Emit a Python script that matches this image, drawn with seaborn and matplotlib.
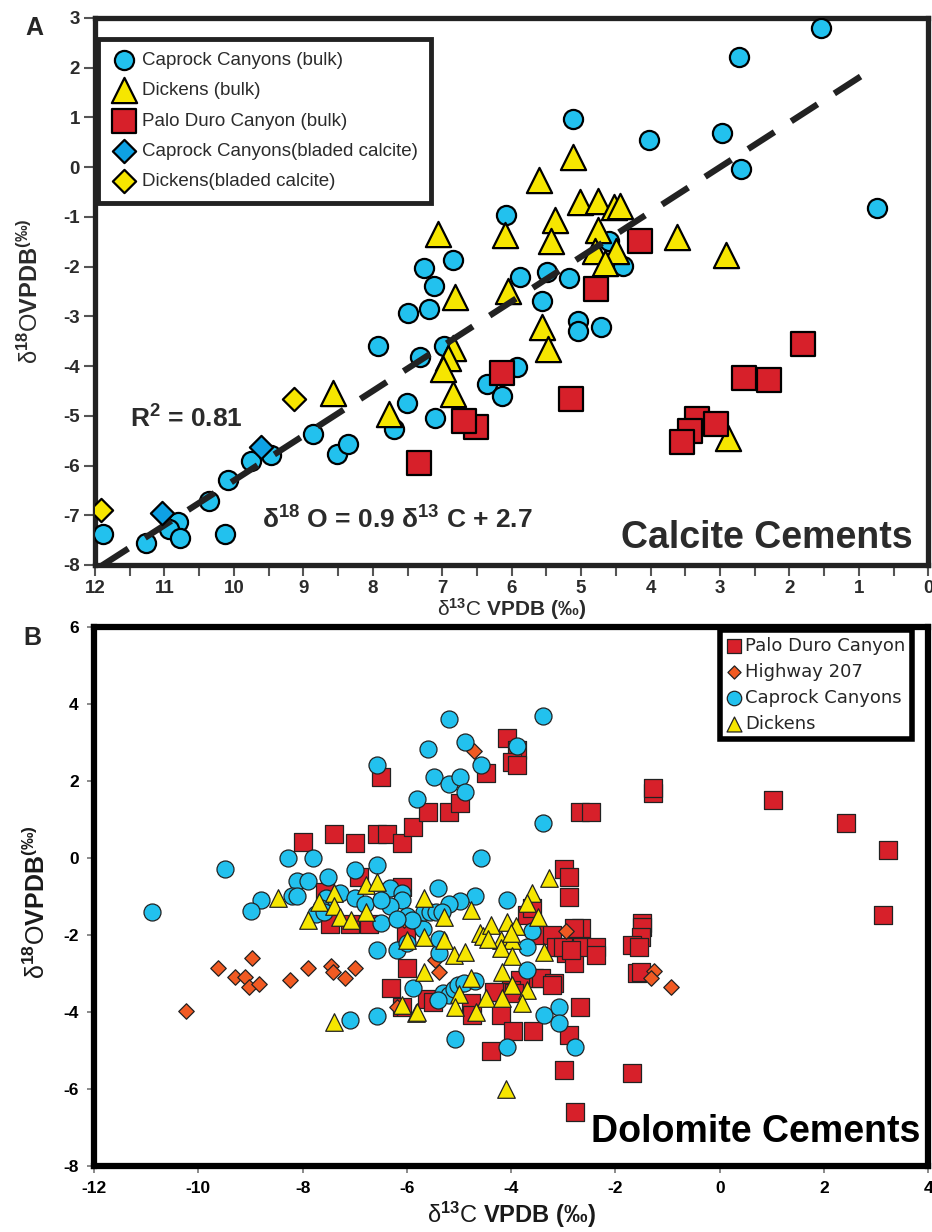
import seaborn as sns
import matplotlib.pyplot as plt
from matplotlib.ticker import MultipleLocator, FuncFormatter

sns.set_style('white')
plt.rcParams['font.family'] = ['Liberation Sans', 'DejaVu Sans']
plt.rcParams['font.weight'] = 'bold'
plt.rcParams['axes.unicode_minus'] = False
plt.rcParams['mathtext.fontset'] = 'custom'
plt.rcParams['mathtext.rm'] = 'Liberation Sans'
plt.rcParams['mathtext.bf'] = 'Liberation Sans:bold'
plt.rcParams['mathtext.it'] = 'Liberation Sans:italic'

CYAN = '#22C1EE'
BLUE = '#0EA1E4'
YELLOW = '#F6E600'
RED = '#D7202A'
ORANGE = '#F15A22'

# ---------------- Panel A: calcite cements (d13C stored as negative values)
cc_bulk_x = [-1.55, -2.72, -5.12, -4.02, -2.97, -2.69, -0.74, -6.08, -5.88, -5.49,
             -5.17, -4.60, -4.40, -7.26, -6.85, -7.12, -7.50, -7.19, -7.93, -7.32,
             -6.97, -7.51, -7.10, -7.70, -8.86, -8.52, -8.35, -9.47, -9.76, -10.09,
             -10.36, -10.13, -10.81, -10.93, -10.78, -11.27, -11.88, -5.56, -5.05, -5.05,
             -4.72, -5.92, -6.35, -6.14]
cc_bulk_y = [2.80, 2.21, 0.96, 0.54, 0.68, -0.04, -0.83, -0.97, -2.20, -2.10,
             -2.22, -1.48, -1.98, -2.02, -1.86, -2.38, -2.93, -2.85, -3.59, -3.81,
             -3.60, -4.74, -5.04, -5.27, -5.37, -5.77, -5.57, -5.78, -5.91, -6.29,
             -6.72, -7.38, -7.14, -7.28, -7.46, -7.56, -7.38, -2.70, -3.09, -3.29,
             -3.21, -4.02, -4.36, -4.60]

dk_bulk_x = [-5.11, -5.61, -5.02, -4.75, -4.52, -4.44, -5.37, -6.09, -5.44, -4.76,
             -4.80, -4.50, -4.66, -3.62, -2.92, -6.06, -7.06, -6.82, -6.85, -6.92,
             -6.99, -6.85, -8.58, -7.77, -5.56, -5.47, -2.88]
dk_bulk_y = [0.20, -0.25, -0.71, -0.69, -0.81, -0.79, -1.07, -1.37, -1.48, -1.27,
             -1.68, -1.68, -1.92, -1.40, -1.76, -2.50, -1.34, -2.62, -3.63, -3.83,
             -4.06, -4.56, -4.54, -4.97, -3.22, -3.65, -5.45]

pd_bulk_x = [-4.15, -4.78, -6.14, -5.15, -6.51, -6.69, -1.81, -2.66, -2.29, -3.33,
             -3.05, -3.43, -3.55, -7.34]
pd_bulk_y = [-1.48, -2.44, -4.13, -4.66, -5.23, -5.10, -3.55, -4.24, -4.28, -5.06,
             -5.17, -5.31, -5.53, -5.95]

cc_blade_x = [-9.61, -11.03]
cc_blade_y = [-5.63, -6.96]
dk_blade_x = [-9.13, -11.91]
dk_blade_y = [-4.66, -6.90]

fit_slope = 0.9
fit_intercept = 2.7
fit_range = [-11.9, -0.75]

# ---------------- Panel B: dolomite cements
pdc_x = [-8.00, -7.39, -6.99, -6.58, -6.39, -6.09, -5.89, -5.59, -5.19, -4.98,
         -6.49, -4.48, -4.08, -3.89, -3.98, -3.89, -2.68, -2.47, -1.28, -1.28,
         1.03, 2.43, 3.23, 3.14,
         -2.99, -2.89, -2.89, -6.91, -6.09, -7.58, -7.48, -7.10, -6.72, -6.01,
         -3.69, -3.60,
         -3.52, -3.21, -3.14, -2.95, -2.79, -2.70, -2.64, -2.37, -2.37, -2.66,
         -2.79, -3.00, -2.85, -1.49, -1.49, -1.51, -1.68, -1.55, -1.59, -1.51,
         -5.99, -6.30, -6.09, -5.61, -5.50, -4.77, -4.75, -4.19, -4.38, -3.96,
         -3.58, -2.89, -2.68, -3.56, -3.42, -3.18, -3.84, -4.00, -4.23, -2.99,
         -1.68, -2.78, -3.21, -3.94, -4.33]
pdc_y = [0.41, 0.62, 0.39, 0.62, 0.62, 0.39, 0.80, 1.19, 1.19, 1.43,
         2.10, 2.21, 3.12, 2.80, 2.49, 2.42, 1.19, 1.19, 1.69, 1.82,
         1.51, 0.91, 0.21, -1.48,
         -0.29, -0.49, -1.01, -0.50, -0.75, -0.88, -1.71, -1.71, -1.71, -1.95,
         -1.48, -1.30,
         -2.00, -2.00, -2.30, -2.47, -2.73, -2.00, -2.31, -2.31, -2.52, -1.82,
         -1.82, -2.30, -2.40, -1.69, -1.79, -2.05, -2.26, -2.31, -2.98, -2.96,
         -2.86, -3.38, -3.87, -3.66, -3.75, -3.77, -4.08, -4.08, -5.01, -4.49,
         -4.49, -4.60, -3.87, -3.12, -3.12, -3.25, -3.17, -3.43, -3.48, -5.51,
         -5.58, -6.60, -3.30, -3.51, -3.48]

hw_x = [-9.63, -9.30, -9.11, -8.98, -9.02, -8.84, -8.25, -7.90, -7.45, -7.41,
        -6.99, -7.18, -10.24, -1.26, -1.32, -0.94, -4.71, -2.95, -6.05, -5.38,
        -5.47, -6.20]
hw_y = [-2.86, -3.09, -3.09, -2.60, -3.35, -3.27, -3.17, -2.86, -2.81, -2.96,
        -2.86, -3.12, -3.97, -2.94, -3.12, -3.35, 2.78, -1.90, -1.61, -2.96,
        -2.65, -3.87]

ccd_x = [-5.19, -3.39, -5.59, -4.88, -3.89, -6.58, -4.57, -5.49, -5.19, -4.98,
         -4.88, -5.80, -3.39, -4.57,
         -10.89, -9.49, -8.28, -7.81, -8.10, -7.89, -8.79, -9.00, -8.21, -8.10,
         -7.52, -6.99, -6.58,
         -7.29, -7.55, -6.99, -6.80, -7.65, -7.75, -7.60, -6.49, -6.58, -6.20,
         -6.33, -6.10, -6.10, -6.33, -5.99, -5.80, -5.70, -6.00, -6.49,
         -5.40, -4.08, -4.69, -4.98, -5.19, -5.68, -5.55, -5.45, -5.32, -5.90,
         -6.20, -3.60, -3.69, -3.69, -5.38, -5.38, -5.89, -5.30, -5.20, -5.10,
         -5.02, -5.40, -4.90, -4.70,
         -3.37, -3.08, -3.08, -2.78, -4.08, -5.07, -7.10, -6.58]
ccd_y = [3.61, 3.69, 2.83, 3.01, 2.91, 2.42, 2.42, 2.10, 1.92, 2.10,
         1.71, 1.53, 0.91, 0.00,
         -1.40, -0.29, 0.00, 0.00, -0.60, -0.60, -1.09, -1.38, -0.98, -0.98,
         -0.50, -0.31, -0.18,
         -0.92, -1.05, -1.05, -1.20, -1.30, -1.45, -1.40, -1.69, -2.39, -2.39,
         -0.78, -0.90, -1.10, -1.25, -2.20, -1.65, -1.85, -1.50, -1.09,
         -0.78, -1.09, -0.99, -1.12, -1.20, -1.40, -1.40, -1.40, -1.40, -1.60,
         -1.58, -1.90, -2.31, -2.91, -2.47, -2.10, -3.38, -3.52, -3.55, -3.40,
         -3.30, -3.70, -3.25, -3.20,
         -4.08, -3.87, -4.29, -4.91, -4.91, -4.70, -4.21, -4.10]

dkd_x = [-8.48, -7.90, -7.69, -6.79, -6.58, -7.39, -7.39, -7.29, -7.08, -6.78,
         -7.39, -6.09, -5.82, -5.99, -5.68, -5.68, -5.28,
         -4.78, -4.60, -4.55, -4.38, -4.08, -3.90, -4.19, -3.98, -4.19, -3.98,
         -5.28, -5.09, -4.88, -5.68, -4.78, -4.17, -3.98, -3.69, -3.79, -5.00,
         -4.48, -4.17, -5.07, -4.67, -5.80, -4.10, -3.27, -3.60, -3.69, -3.48,
         -3.37, -4.00, -4.45]
dkd_y = [-1.04, -1.60, -1.14, -0.70, -0.62, -0.92, -1.25, -1.53, -1.61, -1.40,
         -4.26, -3.82, -4.03, -2.13, -2.05, -1.05, -1.53,
         -1.35, -1.95, -2.03, -1.74, -1.66, -1.77, -2.13, -2.13, -2.34, -2.55,
         -2.13, -2.52, -2.44, -2.96, -3.12, -2.96, -3.30, -3.43, -3.77, -3.53,
         -3.64, -3.64, -3.87, -4.00, -4.00, -6.00, -0.52, -0.91, -1.17, -1.53,
         -2.44, -1.95, -2.10]

fig = plt.figure(figsize=(9.32, 12.32), dpi=100)
axA = fig.add_axes([0.102, 0.5414, 0.894, 0.444])
axB = fig.add_axes([0.101, 0.0536, 0.895, 0.4375])

# ---- panel A
ew = 1.6
sns.scatterplot(x=cc_bulk_x, y=cc_bulk_y, marker='o', s=190, color=CYAN, edgecolor='black',
                linewidth=ew, ax=axA, label='Caprock Canyons (bulk)', zorder=3)
sns.scatterplot(x=dk_bulk_x, y=dk_bulk_y, marker='^', s=330, color=YELLOW, edgecolor='black',
                linewidth=ew, ax=axA, label='Dickens (bulk)', zorder=4)
sns.scatterplot(x=pd_bulk_x, y=pd_bulk_y, marker='s', s=290, color=RED, edgecolor='black',
                linewidth=ew, ax=axA, label='Palo Duro Canyon (bulk)', zorder=5)
sns.scatterplot(x=cc_blade_x, y=cc_blade_y, marker='D', s=140, color=BLUE, edgecolor='black',
                linewidth=ew, ax=axA, label='Caprock Canyons(bladed calcite)', zorder=7)
sns.scatterplot(x=dk_blade_x, y=dk_blade_y, marker='D', s=140, color=YELLOW, edgecolor='black',
                linewidth=ew, ax=axA, label='Dickens(bladed calcite)', zorder=7)

fit_y = [fit_slope * v + fit_intercept for v in fit_range]
sns.lineplot(x=fit_range, y=fit_y, ax=axA, color='#222222', linewidth=4.5,
             linestyle=(0, (5.0, 3.2)), zorder=6)

axA.set_xlim(-12, 0)
axA.set_ylim(-8, 3)
axA.xaxis.set_major_locator(MultipleLocator(1))
axA.xaxis.set_minor_locator(MultipleLocator(0.5))
axA.yaxis.set_major_locator(MultipleLocator(1))
axA.xaxis.set_major_formatter(FuncFormatter(lambda v, p: f'{abs(v):.0f}'))
axA.tick_params(axis='both', which='both', direction='out', length=8, width=1.5,
                color='#555555', labelsize=13.5, labelcolor='#2b2b2b', pad=3,
                bottom=True, left=True)
for sp in axA.spines.values():
    sp.set_linewidth(3.8)
    sp.set_color('#222222')

axA.set_xlabel(r'δ$^{13}$C $\mathbf{VPDB\ (‰)}$', fontsize=15, fontweight='normal', color='#2b2b2b')
axA.xaxis.set_label_coords(0.5, -0.056)
axA.set_ylabel(r'δ$^{18}$O$\mathbf{VPDB}$$^{(‰)}$', fontsize=17, fontweight='normal', color='#2b2b2b')
axA.yaxis.set_label_coords(-0.062, 0.5)

legA = axA.legend(loc='upper left', bbox_to_anchor=(0.004, 0.962), frameon=True, fancybox=False,
                  framealpha=1, edgecolor='#222222', prop={'weight': 'normal', 'size': 13.5},
                  labelspacing=0.7, handletextpad=0.3, borderpad=0.7, handlelength=1.3,
                  borderaxespad=0, scatterpoints=1, labelcolor='#2b2b2b')
legA.get_frame().set_linewidth(3.5)

axA.text(0.042, 0.252, r'R$^{\mathbf{2}}$ = 0.81', transform=axA.transAxes, fontsize=19,
         fontweight='bold', color='#2b2b2b', ha='left', va='baseline')
axA.text(0.2, 0.066, r'δ$^{\mathbf{18}}$ O = 0.9 δ$^{\mathbf{13}}$ C + 2.7', transform=axA.transAxes,
         fontsize=19, fontweight='bold', color='#2b2b2b', ha='left', va='baseline')
axA.text(0.981, 0.031, 'Calcite Cements', transform=axA.transAxes, fontsize=27,
         fontweight='bold', color='#2b2b2b', ha='right', va='baseline')

# ---- panel B
ewb = 0.9
sns.scatterplot(x=pdc_x, y=pdc_y, marker='s', s=150, color=RED, edgecolor='#222222',
                linewidth=ewb, ax=axB, label='Palo Duro Canyon', zorder=3)
sns.scatterplot(x=hw_x, y=hw_y, marker='D', s=62, color=ORANGE, edgecolor='#222222',
                linewidth=ewb, ax=axB, label='Highway 207', zorder=4)
sns.scatterplot(x=ccd_x, y=ccd_y, marker='o', s=150, color=CYAN, edgecolor='#222222',
                linewidth=ewb, ax=axB, label='Caprock Canyons', zorder=5)
sns.scatterplot(x=dkd_x, y=dkd_y, marker='^', s=160, color=YELLOW, edgecolor='#222222',
                linewidth=ewb, ax=axB, label='Dickens', zorder=6)

axB.set_xlim(-12, 4)
axB.set_ylim(-8, 6)
axB.xaxis.set_major_locator(MultipleLocator(2))
axB.yaxis.set_major_locator(MultipleLocator(2))
axB.tick_params(axis='both', direction='out', length=5, width=1.2, color='#777777',
                labelsize=12.5, labelcolor='black', pad=6, bottom=True, left=True)
for sp in axB.spines.values():
    sp.set_linewidth(4.5)
    sp.set_color('black')

axB.set_xlabel(r'δ$^{13}$C $\mathbf{VPDB\ (‰)}$', fontsize=17, fontweight='normal', color='#1a1a1a')
axB.xaxis.set_label_coords(0.5, -0.062)
axB.set_ylabel(r'δ$^{18}$O$\mathbf{VPDB}$$^{(‰)}$', fontsize=18, fontweight='normal', color='#1a1a1a')
axB.yaxis.set_label_coords(-0.053, 0.49)

legB = axB.legend(loc='upper right', bbox_to_anchor=(0.98, 0.994), frameon=True, fancybox=False,
                  framealpha=1, edgecolor='black',
                  prop={'family': 'DejaVu Sans', 'weight': 'normal', 'size': 13},
                  labelspacing=0.45, handletextpad=0.15, borderpad=0.35, handlelength=0.9,
                  borderaxespad=0, scatterpoints=1, markerscale=0.85)
legB.get_frame().set_linewidth(4)

axB.text(0.991, 0.0445, 'Dolomite Cements', transform=axB.transAxes, fontsize=27,
         fontweight='bold', color='black', ha='right', va='baseline')

fig.text(34 / 932, 1 - 28 / 1232, 'A', fontsize=18, fontweight='bold', ha='center', va='center')
fig.text(32 / 932, 1 - 638 / 1232, 'B', fontsize=18, fontweight='bold', ha='center', va='center')

fig.savefig('out.png', dpi=100)
